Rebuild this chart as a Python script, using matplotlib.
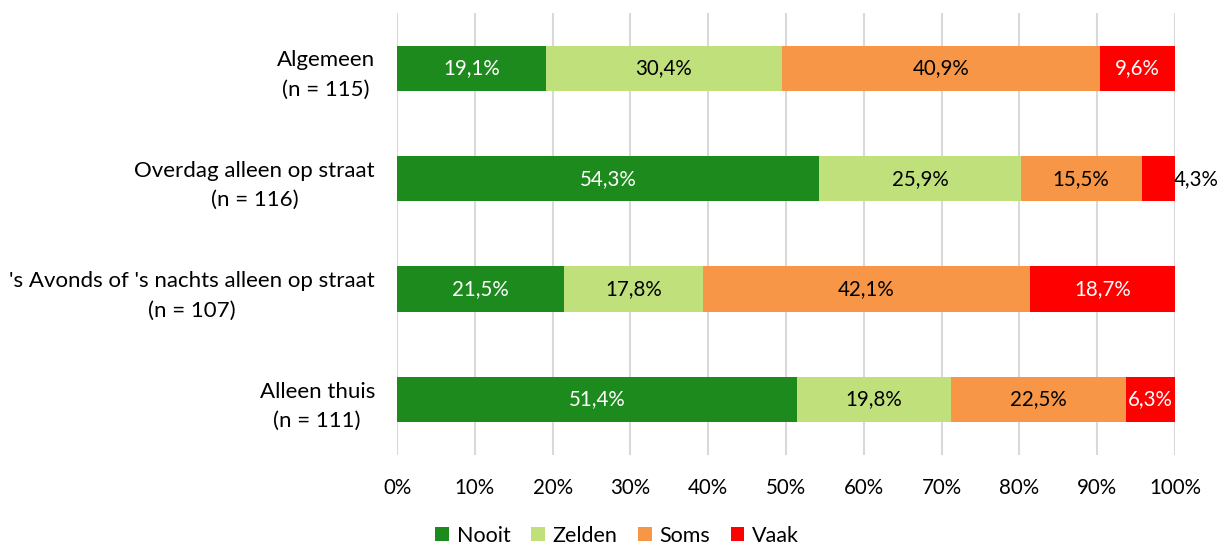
import matplotlib
matplotlib.use("Agg")
import matplotlib.pyplot as plt
from matplotlib.patches import Patch

plt.rcParams['font.family'] = ['Lato', 'DejaVu Sans']

categories = ["Algemeen\n(n = 115)", "Overdag alleen op straat\n(n = 116)",
              "'s Avonds of 's nachts alleen op straat\n(n = 107)", "Alleen thuis\n(n = 111)"]
series_names = ["Nooit", "Zelden", "Soms", "Vaak"]
nooit = [19.1, 54.3, 21.5, 51.4]
zelden = [30.4, 25.9, 17.8, 19.8]
soms = [40.9, 15.5, 42.1, 22.5]
vaak = [9.6, 4.3, 18.7, 6.3]
colors = ["#1C8A1C", "#C0E07C", "#F79646", "#FF0000"]
text_colors = ["white", "black", "black", "white"]
tick_labels = [f"{v}%" for v in range(0, 101, 10)]

fig = plt.figure(figsize=(12.22, 5.44), dpi=100)
ax = fig.add_axes([0.325, 0.164, 0.6365, 0.812])

series = [nooit, zelden, soms, vaak]
ypos = list(range(len(categories)))
left = [0.0] * len(categories)
for s, vals in enumerate(series):
    ax.barh(ypos, vals, left=left, height=0.41, color=colors[s], zorder=3)
    for i, v in enumerate(vals):
        lbl = f"{v:.1f}%".replace(".", ",")
        if v < 5:
            ax.text(left[i] + v - 0.2, i, lbl, ha="left", va="center", color="black",
                    fontsize=14.8, zorder=4, clip_on=False)
        else:
            ax.text(left[i] + v / 2, i, lbl, ha="center", va="center",
                    color=text_colors[s], fontsize=14.8, zorder=4)
    left = [l + v for l, v in zip(left, vals)]

ax.set_xlim(0, 100)
ax.set_ylim(3.5, -0.5)
ax.set_xticks(range(0, 101, 10))
ax.set_xticklabels(tick_labels, fontsize=14.8)
ax.set_yticks(ypos)
ax.set_yticklabels(categories, fontsize=16, multialignment="center", linespacing=1.6)
ax.tick_params(axis="both", length=0)
ax.tick_params(axis="y", pad=16)
ax.tick_params(axis="x", pad=17)
for sp in ax.spines.values():
    sp.set_visible(False)
ax.grid(axis="x", color="#D9D9D9", linewidth=1.5, zorder=0)
ax.set_axisbelow(True)

handles = [Patch(facecolor=c, label=n) for c, n in zip(colors, series_names)]
fig.legend(handles=handles, loc="center", bbox_to_anchor=(0.505, 0.015), ncol=4,
           frameon=False, fontsize=15.5, handlelength=0.65, handleheight=0.65,
           handletextpad=0.35, columnspacing=0.95)

fig.savefig("out.png", dpi=100)
